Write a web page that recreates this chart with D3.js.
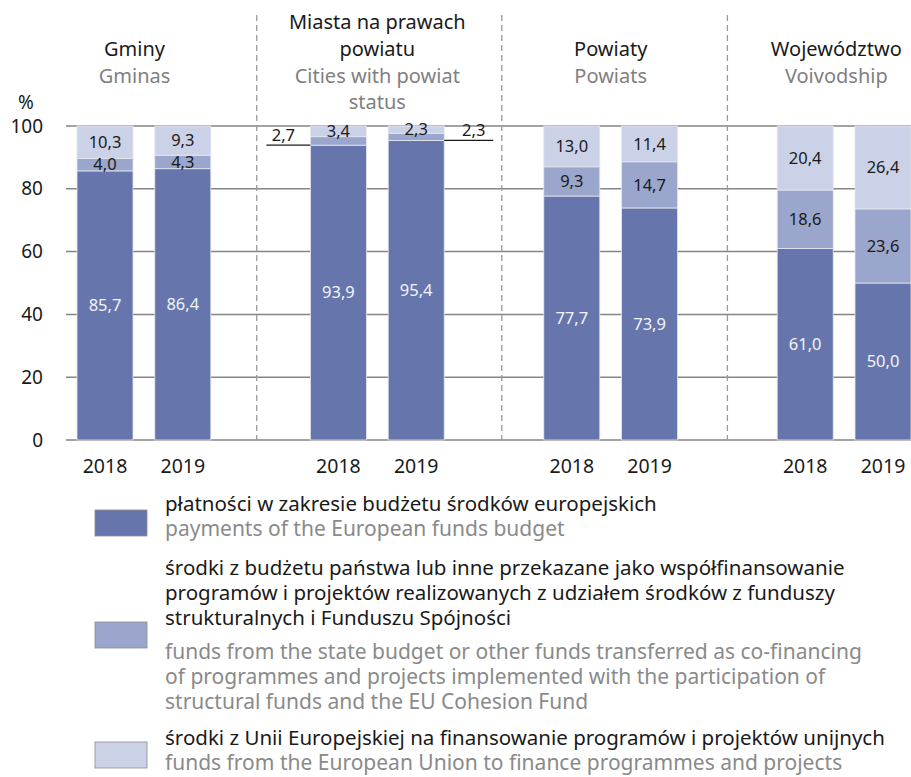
<!DOCTYPE html>
<html>
<script src='https://d3js.org/d3.v7.min.js'></script>
<style>
	body {margin: 0; background: #fff; }
	svg {display: block; font-family: "Noto Sans", "Open Sans", sans-serif; }
</style>
<body>
<svg id="chart" width="911" height="777"></svg>
<script>
// values (percent)
const years = ["2018", "2019"];
const titlesPl = [["Gminy"], ["Miasta na prawach", "powiatu"], ["Powiaty"], ["Województwo"]];
const titlesEn = [["Gminas"], ["Cities with powiat", "status"], ["Powiats"], ["Voivodship"]];
const european = [85.7, 86.4, 93.9, 95.4, 77.7, 73.9, 61.0, 50.0];
const cofinancing = [4.0, 4.3, 2.7, 2.3, 9.3, 14.7, 18.6, 23.6];
const euFunds = [10.3, 9.3, 3.4, 2.3, 13.0, 11.4, 20.4, 26.4];
const yTicks = [0, 20, 40, 60, 80, 100];
// small segments labelled outside the bar (bar index, side)
const callouts = [{bar: 2, key: "cofinancing", side: -1}, {bar: 3, key: "cofinancing", side: 1}];
const legendPl = [
	["płatności w zakresie budżetu środków europejskich"],
	["środki z budżetu państwa lub inne przekazane jako współfinansowanie",
	 "programów i projektów realizowanych z udziałem środków z funduszy",
	 "strukturalnych i Funduszu Spójności"],
	["środki z Unii Europejskiej na finansowanie programów i projektów unijnych"]
];
const legendEn = [
	["payments of the European funds budget"],
	["funds from the state budget or other funds transferred as co-financing",
	 "of programmes and projects implemented with the participation of",
	 "structural funds and the EU Cohesion Fund"],
	["funds from the European Union to finance programmes and projects"]
];
const keys = ["european", "cofinancing", "euFunds"];
const colors = ["#6676ac", "#9aa6cb", "#cbd1e6"];

const svg = d3.select("#chart");
const barW = 56;
const sepShift = [-0.05, 0.1, 0];
const titleShift = [-0.12, 0, 0, -0.1];

const rows = european.map((v, i) => ({
	idx: i,
	slot: Math.floor(i / 2) * 3 + (i % 2),
	year: years[i % 2],
	european: v,
	cofinancing: cofinancing[i],
	euFunds: euFunds[i]
}));

const x = d3.scaleLinear().domain([0, 10]).range([105, 883]);
const y = d3.scaleLinear().domain([0, 100]).range([440, 126]);

// gridlines
svg.append("g").selectAll("line")
	.data(yTicks)
	.join("line")
	.attr("x1", 66).attr("x2", 911)
	.attr("y1", d => y(d)).attr("y2", d => y(d))
	.attr("stroke", "#858585")
	.attr("stroke-width", 1.5);

svg.append("g").selectAll("text")
	.data(yTicks)
	.join("text")
	.attr("x", 43)
	.attr("y", d => y(d))
	.attr("dy", "0.35em")
	.attr("text-anchor", "end")
	.attr("font-size", 19)
	.attr("fill", "#1a1a1a")
	.text(d => d);

svg.append("text")
	.attr("x", 26).attr("y", 102).attr("dy", "0.35em")
	.attr("text-anchor", "middle")
	.attr("font-size", 19)
	.attr("fill", "#1a1a1a")
	.text("%");

// dashed separators between groups
svg.append("g").selectAll("line")
	.data(sepShift)
	.join("line")
	.attr("x1", (d, i) => x(i * 3 + 2 + d))
	.attr("x2", (d, i) => x(i * 3 + 2 + d))
	.attr("y1", 15).attr("y2", 440)
	.attr("stroke", "#9a9a9a")
	.attr("stroke-width", 1.3)
	.attr("stroke-dasharray", "6,4");

// stacked bars
const stacked = d3.stack().keys(keys)(rows);

stacked.forEach((layer, k) => {
	svg.append("g")
		.selectAll("rect")
		.data(layer)
		.join("rect")
		.attr("x", d => x(d.data.slot) - barW / 2)
		.attr("width", barW)
		.attr("y", d => y(d[1]))
		.attr("height", d => y(d[0]) - y(d[1]))
		.attr("fill", colors[k])
		.attr("stroke", "#e4e7f1")
		.attr("stroke-width", 0.8);
});

const fmt = v => d3.format(".1f")(v).replace(".", ",");
const isCallout = (k, i) => callouts.some(c => c.bar === i && c.key === keys[k]);

stacked.forEach((layer, k) => {
	svg.append("g")
		.selectAll("text")
		.data(layer.filter(d => !isCallout(k, d.data.idx)))
		.join("text")
		.attr("x", d => x(d.data.slot))
		.attr("y", d => y((d[0] + d[1]) / 2))
		.attr("dy", "0.35em")
		.attr("text-anchor", "middle")
		.attr("font-size", 16.5)
		.attr("fill", k === 0 ? "#f2f3f8" : "#1a1a1a")
		.text(d => fmt(d.data[keys[k]]));
});

// outside labels with leader lines
callouts.forEach(c => {
	const r = rows[c.bar];
	const ly = y(r.european);
	const edge = x(r.slot) + c.side * barW / 2;
	const far = edge + c.side * (c.side < 0 ? 44 : 49);
	svg.append("line")
		.attr("x1", edge).attr("x2", far)
		.attr("y1", ly).attr("y2", ly)
		.attr("stroke", "#1a1a1a")
		.attr("stroke-width", 1.2);
	svg.append("text")
		.attr("x", (edge + far) / 2 + c.side * 5)
		.attr("y", ly - 4)
		.attr("text-anchor", "middle")
		.attr("font-size", 16.5)
		.attr("fill", "#1a1a1a")
		.text(fmt(r[c.key]));
});

// year labels
svg.append("g").selectAll("text")
	.data(rows)
	.join("text")
	.attr("x", d => x(d.slot))
	.attr("y", 466)
	.attr("dy", "0.35em")
	.attr("text-anchor", "middle")
	.attr("font-size", 19.5)
	.attr("fill", "#1a1a1a")
	.text(d => d.year);

// group titles
const lineY = i => 22 + 26.8 * i;
titlesPl.forEach((pl, g) => {
	const cx = x(g * 3 + 0.5 + titleShift[g]);
	const lines = pl.map(t => ({t, c: "#1a1a1a"})).concat(titlesEn[g].map(t => ({t, c: "#808080"})));
	const start = lines.length >= 4 ? 0 : 1;
	svg.append("g").selectAll("text")
		.data(lines)
		.join("text")
		.attr("x", cx)
		.attr("y", (d, i) => lineY(start + i))
		.attr("dy", "0.35em")
		.attr("text-anchor", "middle")
		.attr("font-size", 20)
		.attr("fill", d => d.c)
		.text(d => d.t);
});

// legend
const legendTop = [504, 568, 738];
legendPl.forEach((pl, k) => {
	const lines = pl.map(t => ({t, c: "#1a1a1a", en: false})).concat(legendEn[k].map(t => ({t, c: "#8a8a8a", en: true})));
	const g = svg.append("g");
	g.selectAll("text")
		.data(lines)
		.join("text")
		.attr("x", 165)
		.attr("y", (d, i) => legendTop[k] + i * 25 + (d.en && pl.length > 1 ? 9 : 0))
		.attr("dy", "0.35em")
		.attr("font-size", d => d.en ? 21 : 20.5)
		.attr("fill", d => d.c)
		.text(d => d.t);
	const swY = k === 0 ? 510 : k === 1 ? 622 : 742;
	g.append("rect")
		.attr("x", 95).attr("y", swY)
		.attr("width", 52).attr("height", 26)
		.attr("fill", colors[k])
		.attr("stroke", "#8c8c8c")
		.attr("stroke-width", 0.8);
});
</script>
</body>
</html>
